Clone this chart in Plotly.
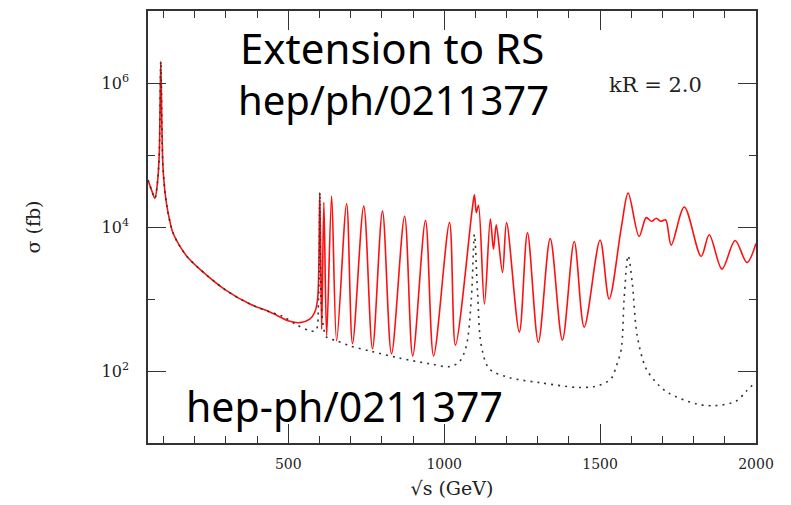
import plotly.graph_objects as go

# sqrt(s) in GeV and sigma in fb
red_x = [50, 62, 72, 80, 86, 91, 95, 98, 104, 111, 120, 130, 150, 175, 216, 297, 377, 441,
         505, 537, 569, 585, 594, 601, 607, 614, 623, 639, 655, 687, 706, 742, 770, 802,
         831, 873, 899, 940, 966, 1017, 1036, 1090, 1097, 1103, 1110, 1129, 1148, 1158,
         1167, 1187, 1200, 1241, 1267, 1302, 1340, 1379, 1417, 1449, 1500, 1529, 1568,
         1590, 1625, 1648, 1665, 1680, 1695, 1710, 1728, 1770, 1824, 1850, 1891, 1933,
         1971, 2000]
red_y = [4.5e4, 3.2e4, 2.5e4, 4.0e4, 1.0e5, 2.0e6, 2.0e5, 6.8e4, 3.2e4, 1.9e4, 1.2e4, 8.3e3,
         5.6e3, 3.9e3, 2.6e3, 1.35e3, 850, 660, 490, 470, 525, 660, 1000, 3.0e4, 380,
         2.2e4, 310, 2.7e4, 263, 2.1e4, 240, 1.95e4, 204, 1.66e4, 174, 1.41e4, 162,
         1.23e4, 162, 1.15e4, 229, 1.78e4, 2.8e4, 1.58e4, 2.0e4, 850, 1.29e4, 4.9e3,
         1.07e4, 2.34e3, 1.15e4, 347, 8.3e3, 251, 6.9e3, 269, 6.3e3, 407, 6.6e3, 1.0e3,
         9.8e3, 2.95e4, 7.4e3, 1.35e4, 1.2e4, 1.32e4, 1.2e4, 1.26e4, 5.6e3, 1.9e4,
         3.9e3, 7.8e3, 2.6e3, 6.5e3, 3.2e3, 5.9e3]

black_x = [50, 62, 72, 80, 86, 91, 95, 98, 104, 111, 120, 130, 150, 175, 216, 297, 377, 441,
           482, 527, 569, 588, 597, 601, 605, 613, 623, 655, 697, 770, 857, 953, 1017,
           1049, 1071, 1087, 1097, 1107, 1119, 1145, 1209, 1305, 1433, 1497, 1536, 1552,
           1568, 1577, 1590, 1603, 1619, 1648, 1689, 1721, 1808, 1866, 1936, 1968, 2000]
black_y = [4.5e4, 3.2e4, 2.5e4, 4.0e4, 1.0e5, 2.0e6, 2.0e5, 6.8e4, 3.2e4, 1.9e4, 1.2e4,
           8.3e3, 5.6e3, 3.9e3, 2.6e3, 1.35e3, 850, 660, 575, 437, 363, 363, 1000, 3.0e4,
           1000, 400, 295, 263, 224, 186, 151, 126, 115, 135, 224, 1000, 7.9e3, 1230, 224,
           107, 81, 69, 59, 63, 79, 117, 204, 1000, 4.0e3, 1.7e3, 309, 107, 63, 49, 35,
           33, 38, 52, 71]

x_tickvals = [500, 1000, 1500, 2000]
x_ticktext = ["500", "1000", "1500", "2000"]
y_tickvals = [1e2, 1e4, 1e6]
y_ticktext = ["10<sup>2</sup>", "10<sup>4</sup>", "10<sup>6</sup>"]
y_minor = [1e1, 1e3, 1e5, 1e7]

fig = go.Figure()
fig.add_trace(go.Scatter(x=red_x, y=red_y, mode="lines",
                         line=dict(color="#ff1010", width=1.6, shape="spline", smoothing=0.9),
                         showlegend=False, hoverinfo="skip"))
fig.add_trace(go.Scatter(x=black_x, y=black_y, mode="lines",
                         line=dict(color="#333333", width=1.6, dash="2px,5px",
                                   shape="spline", smoothing=0.9),
                         showlegend=False, hoverinfo="skip"))

xfont = dict(family="DejaVu Serif", size=14, color="#222")
yfont = dict(family="DejaVu Serif", size=16, color="#222")
fig.update_layout(
    width=791, height=505,
    margin=dict(l=148, r=35, t=9, b=60),
    paper_bgcolor="white", plot_bgcolor="white",
    xaxis=dict(range=[50, 2000], showgrid=False, zeroline=False,
               showline=True, linecolor="#333", linewidth=1.5, mirror="allticks",
               ticks="inside", ticklen=19, tickwidth=1.3, tickcolor="#333",
               tickmode="array", tickvals=x_tickvals, ticktext=x_ticktext,
               tickfont=xfont, ticklabelstandoff=7,
               minor=dict(ticks="inside", ticklen=7, tickwidth=1.2, tickcolor="#333",
                          dtick=100, tick0=0, showgrid=False),
               title=dict(text="√s (GeV)", font=dict(family="DejaVu Serif", size=19, color="#222"),
                          standoff=11)),
    yaxis=dict(type="log", range=[1, 7], showgrid=False, zeroline=False,
               showline=True, linecolor="#333", linewidth=1.5, mirror="allticks",
               ticks="inside", ticklen=18, tickwidth=1.3, tickcolor="#333",
               tickmode="array", tickvals=y_tickvals, ticktext=y_ticktext,
               tickfont=yfont, ticklabelstandoff=14,
               minor=dict(ticks="inside", ticklen=7, tickwidth=1.2, tickcolor="#333",
                          tickmode="array", tickvals=y_minor, showgrid=False),
               title=dict(text="σ (fb)", font=dict(family="DejaVu Serif", size=19, color="#222"),
                          standoff=56)),
)

def note(text, x, y, font):
    fig.add_annotation(text=text, xref="paper", yref="paper", x=x, y=y,
                       xanchor="center", yanchor="middle", showarrow=False, font=font)

note("Extension to RS", 0.401, 0.915, dict(family="Noto Sans", size=42, color="black"))
note("hep/ph/0211377", 0.404, 0.796, dict(family="Noto Sans", size=40, color="black"))
note("hep-ph/0211377", 0.324, 0.085, dict(family="Noto Sans", size=41, color="black"))
note("kR = 2.0", 0.834, 0.828, dict(family="DejaVu Serif", size=21, color="#222"))

fig.write_html("out.html")
